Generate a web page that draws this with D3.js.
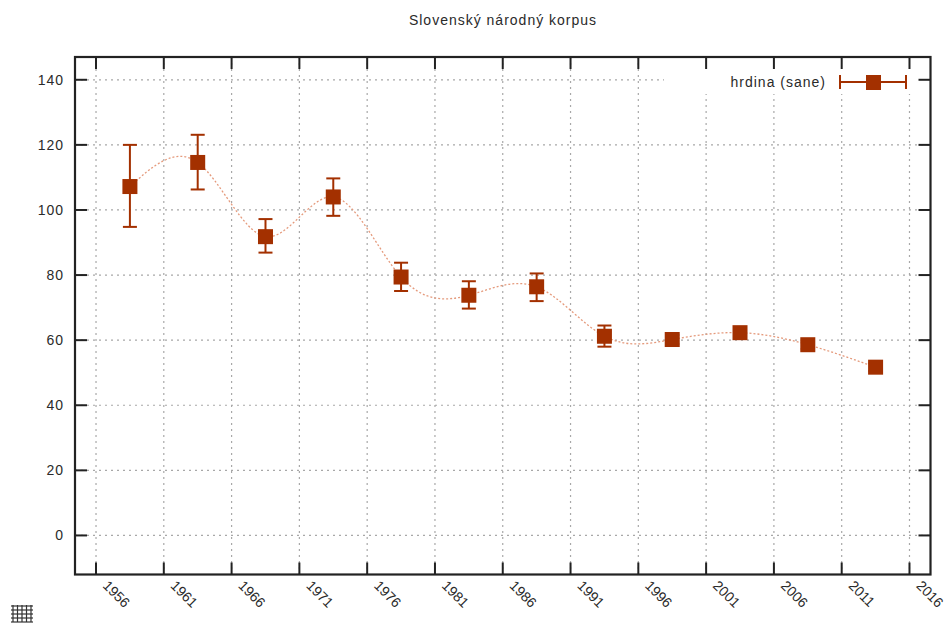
<!DOCTYPE html>
<html><head><meta charset="utf-8">
<script src="https://cdn.jsdelivr.net/npm/d3@7/dist/d3.min.js"></script>
<style>
body{margin:0;background:#fff;}
svg text{font-family:"Liberation Sans",Arial,sans-serif;fill:#2a2a2a;letter-spacing:1px;}
svg text.xl{letter-spacing:0px;}
</style></head>
<body><svg id="c" width="949" height="624"></svg>
<script>
const years = [1958.5,1963.5,1968.5,1973.5,1978.5,1983.5,1988.5,1993.5,1998.5,2003.5,2008.5,2013.5];
const values = [107.2,114.6,91.8,104.0,79.4,73.8,76.4,61.2,60.2,62.3,58.6,51.7];
const errLow = [94.8,106.3,86.9,98.2,75.1,69.7,72.0,58.0,58.8,60.9,57.3,50.5];
const errHigh = [120.0,123.1,97.2,109.7,83.8,78.1,80.5,64.5,61.6,63.7,59.9,52.9];
const xTicks = [1956,1961,1966,1971,1976,1981,1986,1991,1996,2001,2006,2011,2016];
const yTicks = [0,20,40,60,80,100,120,140];
const title = "Slovenský národný korpus";
const seriesName = "hrdina (sane)";

const svg = d3.select("#c");
const L=75,R=930.5,T=57,B=574.5;
const x = d3.scaleLinear().domain([1954.45,2017.55]).range([L,R]);
const y = d3.scaleLinear().domain([-12,147]).range([B,T]);
const col = "#a33000", lineCol = "#e59a7c";
const fs = 14;

svg.append("text").attr("x",503).attr("y",25).attr("text-anchor","middle")
  .attr("font-size",fs).text(title);

// grid
const g = svg.append("g");
g.selectAll(".gy").data(yTicks).join("line")
  .attr("x1",L).attr("x2",R).attr("y1",d=>y(d)).attr("y2",d=>y(d))
  .attr("stroke","#a8a8a8").attr("stroke-width",1.2).attr("stroke-dasharray","2,4");
g.selectAll(".gx").data(xTicks).join("line")
  .attr("x1",d=>x(d)).attr("x2",d=>x(d)).attr("y1",T).attr("y2",B)
  .attr("stroke","#a8a8a8").attr("stroke-width",1.2).attr("stroke-dasharray","2,4");

// legend background
svg.append("rect").attr("x",664).attr("y",T+1).attr("width",R-664-2).attr("height",36).attr("fill","#fff");

// axes ticks (inward, mirrored)
const tk = 12;
const ax = svg.append("g").attr("stroke","#222").attr("stroke-width",2);
ax.selectAll(".tb").data(xTicks).join("line").attr("x1",d=>x(d)).attr("x2",d=>x(d)).attr("y1",B).attr("y2",B-tk);
ax.selectAll(".tt").data(xTicks).join("line").attr("x1",d=>x(d)).attr("x2",d=>x(d)).attr("y1",T).attr("y2",T+tk);
ax.selectAll(".tl").data(yTicks).join("line").attr("y1",d=>y(d)).attr("y2",d=>y(d)).attr("x1",L).attr("x2",L+tk);
ax.selectAll(".tr").data(yTicks).join("line").attr("y1",d=>y(d)).attr("y2",d=>y(d)).attr("x1",R).attr("x2",R-tk);
svg.append("rect").attr("x",L).attr("y",T).attr("width",R-L).attr("height",B-T)
  .attr("fill","none").attr("stroke","#222").attr("stroke-width",2.2);

// tick labels
svg.selectAll(".yl").data(yTicks).join("text").attr("x",64).attr("y",d=>y(d)+5)
  .attr("text-anchor","end").attr("font-size",fs).text(d=>d);
svg.selectAll(".xl").data(xTicks).join("text").attr("class","xl")
  .attr("transform",d=>`translate(${x(d)+6},${B+12}) rotate(45)`)
  .attr("font-size",fs).text(d=>d);

// curve
const line = d3.line().x((d,i)=>x(years[i])).y(d=>y(d)).curve(d3.curveNatural);
svg.append("path").attr("d",line(values)).attr("fill","none").attr("stroke",lineCol)
  .attr("stroke-width",1.3).attr("stroke-dasharray","2,2");

// error bars
const eb = svg.append("g").attr("stroke",col).attr("stroke-width",2);
values.forEach((v,i)=>{
  const cx=x(years[i]);
  eb.append("line").attr("x1",cx).attr("x2",cx).attr("y1",y(errLow[i])).attr("y2",y(errHigh[i]));
  eb.append("line").attr("x1",cx-7).attr("x2",cx+7).attr("y1",y(errLow[i])).attr("y2",y(errLow[i]));
  eb.append("line").attr("x1",cx-7).attr("x2",cx+7).attr("y1",y(errHigh[i])).attr("y2",y(errHigh[i]));
});
svg.selectAll(".pt").data(values).join("rect")
  .attr("x",(d,i)=>x(years[i])-7.5).attr("y",d=>y(d)-7.5).attr("width",15).attr("height",15).attr("fill",col);

// legend
svg.append("text").attr("x",826).attr("y",87).attr("text-anchor","end").attr("font-size",fs).text(seriesName);
const lg = svg.append("g").attr("stroke",col).attr("stroke-width",2);
lg.append("line").attr("x1",840).attr("x2",906).attr("y1",82).attr("y2",82);
lg.append("line").attr("x1",840).attr("x2",840).attr("y1",75).attr("y2",89);
lg.append("line").attr("x1",906).attr("x2",906).attr("y1",75).attr("y2",89);
svg.append("rect").attr("x",866).attr("y",75).attr("width",15).attr("height",15).attr("fill",col);

// grid icon
const ic = svg.append("g").attr("stroke","#333").attr("stroke-width",1.2);
[0,1,2,3,4].forEach(k=>{
  ic.append("line").attr("x1",13+k*4.5).attr("x2",13+k*4.5).attr("y1",605).attr("y2",622);
  ic.append("line").attr("y1",606+k*4).attr("y2",606+k*4).attr("x1",11).attr("x2",33);
});
</script></body></html>
